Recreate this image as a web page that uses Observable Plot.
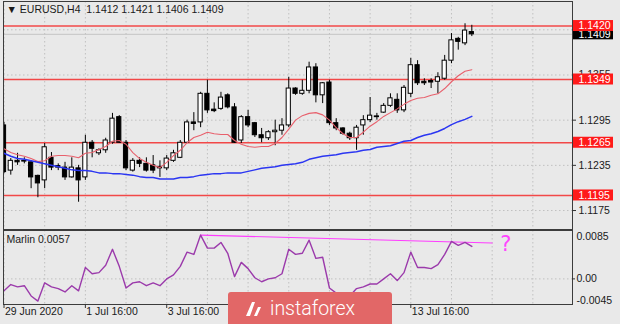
<!DOCTYPE html>
<html><head><meta charset="utf-8">
<script src="https://cdn.jsdelivr.net/npm/d3@7"></script>
<script src="https://cdn.jsdelivr.net/npm/@observablehq/plot@0.6"></script>
<style>
html,body{margin:0;padding:0;background:#e9e9e9;}
#chart{position:relative;width:620px;height:324px;overflow:hidden;background:#e9e9e9;}
#chart > svg{position:absolute;left:0;display:block;}
#logo{position:absolute;left:228px;top:292px;width:164px;height:40px;background:#e26767;border-radius:3px;}
#logo span{position:absolute;left:42px;top:5px;color:#fff;font-family:Roboto,"Open Sans",sans-serif;font-size:19.5px;font-weight:300;}
</style></head><body><div id="chart"></div>
<script>
// ---- data ----
const symbol = "EURUSD", timeframe = "H4";
const open  = [1.1288,1.1228,1.1241,1.1241,1.1239,1.1221,1.1215,1.1245,1.1234,1.1232,
               1.1219,1.1231,1.1219,1.1265,1.1251,1.1255,1.1265,1.1299,1.1265,1.1228,
               1.1241,1.1237,1.1235,1.1233,1.1231,1.1241,1.1245,1.1265,1.1292,1.1292,
               1.1330,1.1309,1.1310,1.1328,1.1312,1.1268,1.1299,1.1291,1.1275,1.1271,
               1.1279,1.1281,1.1288,1.1337,1.1330,1.1334,1.1365,1.1328,1.1345,1.1291,
               1.1284,1.1277,1.1271,1.1288,1.1295,1.1300,1.1305,1.1314,1.1322,1.1308,
               1.1330,1.1368,1.1346,1.1347,1.1346,1.1350,1.1374,1.1403,1.1397,1.1412];
const high  = [1.1292,1.1244,1.1251,1.1245,1.1241,1.1222,1.1264,1.1252,1.1237,1.1239,
               1.1245,1.1235,1.1275,1.1268,1.1257,1.1271,1.1304,1.1301,1.1268,1.1244,
               1.1245,1.1245,1.1248,1.1241,1.1248,1.1255,1.1268,1.1295,1.1305,1.1332,
               1.1348,1.1318,1.1332,1.1330,1.1317,1.1301,1.1308,1.1292,1.1284,1.1281,
               1.1295,1.1297,1.1352,1.1338,1.1348,1.1372,1.1370,1.1345,1.1348,1.1297,
               1.1285,1.1279,1.1288,1.1301,1.1325,1.1304,1.1317,1.1330,1.1330,1.1341,
               1.1377,1.1374,1.1350,1.1350,1.1358,1.1381,1.1410,1.1405,1.1423,1.1421];
const low   = [1.1224,1.1222,1.1235,1.1237,1.1204,1.1192,1.1204,1.1228,1.1228,1.1215,
               1.1218,1.1186,1.1215,1.1245,1.1248,1.1251,1.1263,1.1264,1.1228,1.1226,
               1.1232,1.1226,1.1224,1.1219,1.1228,1.1239,1.1244,1.1264,1.1281,1.1285,
               1.1304,1.1305,1.1308,1.1310,1.1264,1.1264,1.1285,1.1272,1.1265,1.1268,
               1.1261,1.1275,1.1285,1.1328,1.1328,1.1330,1.1318,1.1317,1.1288,1.1281,
               1.1275,1.1268,1.1255,1.1275,1.1292,1.1295,1.1304,1.1312,1.1304,1.1305,
               1.1325,1.1341,1.1341,1.1337,1.1330,1.1348,1.1370,1.1388,1.1394,1.1406];
const close = [1.1226,1.1241,1.1239,1.1240,1.1219,1.1211,1.1259,1.1232,1.1232,1.1219,
               1.1232,1.1215,1.1265,1.1257,1.1255,1.1268,1.1297,1.1265,1.1231,1.1241,
               1.1237,1.1228,1.1228,1.1231,1.1244,1.1251,1.1265,1.1292,1.1290,1.1330,
               1.1308,1.1307,1.1325,1.1312,1.1265,1.1299,1.1288,1.1275,1.1271,1.1279,
               1.1281,1.1288,1.1337,1.1330,1.1334,1.1365,1.1328,1.1344,1.1291,1.1284,
               1.1277,1.1271,1.1285,1.1295,1.1301,1.1299,1.1314,1.1324,1.1308,1.1338,
               1.1368,1.1344,1.1344,1.1345,1.1352,1.1374,1.1401,1.1399,1.1414,1.1409];
const maFast = [1.1257,1.1252,1.1249,1.1247,1.1244,1.1240,1.1241,1.1247,1.1248,1.1248,
                1.1247,1.1245,1.1251,1.1252,1.1256,1.1260,1.1267,1.1268,1.1263,1.1252,
                1.1244,1.1239,1.1235,1.1232,1.1239,1.1248,1.1255,1.1265,1.1272,1.1275,
                1.1279,1.1277,1.1276,1.1276,1.1268,1.1263,1.1260,1.1259,1.1260,1.1260,
                1.1264,1.1272,1.1283,1.1295,1.1301,1.1304,1.1305,1.1302,1.1295,1.1285,
                1.1277,1.1272,1.1272,1.1279,1.1287,1.1293,1.1300,1.1305,1.1310,1.1316,
                1.1321,1.1324,1.1325,1.1328,1.1330,1.1337,1.1346,1.1354,1.1360,1.1362];
const maSlow = [1.1251,1.1247,1.1244,1.1243,1.1241,1.1239,1.1237,1.1235,1.1233,1.1231,
                1.1229,1.1228,1.1228,1.1227,1.1225,1.1225,1.1224,1.1224,1.1223,1.1222,
                1.1220,1.1219,1.1219,1.1217,1.1217,1.1217,1.1219,1.1219,1.1220,1.1222,
                1.1223,1.1224,1.1224,1.1225,1.1225,1.1225,1.1227,1.1229,1.1231,1.1232,
                1.1233,1.1235,1.1236,1.1237,1.1239,1.1243,1.1245,1.1247,1.1248,1.1249,
                1.1251,1.1252,1.1253,1.1255,1.1256,1.1259,1.1260,1.1261,1.1264,1.1267,
                1.1268,1.1272,1.1275,1.1277,1.1280,1.1284,1.1289,1.1293,1.1296,1.1300];
const marlin = [-0.0021,-0.0010,-0.0014,-0.0012,-0.0030,-0.0039,-0.0007,-0.0014,-0.0017,-0.0023,
                -0.0012,-0.0021,0.0020,0.0009,0.0011,0.0024,0.0052,0.0022,-0.0016,-0.0007,
                -0.0005,-0.0012,-0.0007,-0.0012,0.0000,0.0007,0.0022,0.0047,0.0043,0.0077,
                0.0054,0.0054,0.0064,0.0045,0.0004,0.0029,0.0018,0.0002,-0.0005,0.0000,
                0.0002,0.0009,0.0052,0.0043,0.0045,0.0068,0.0036,0.0038,-0.0016,-0.0025,
                -0.0032,-0.0030,-0.0017,-0.0014,-0.0009,-0.0009,0.0000,0.0009,-0.0003,0.0011,
                0.0047,0.0020,0.0020,0.0018,0.0025,0.0043,0.0066,0.0059,0.0064,0.0057];
const levels = [1.1420, 1.1349, 1.1265, 1.1195];
const bidPrice = [1.1409];
const priceGrid = [1.1175, 1.1235, 1.1295, 1.1355, 1.1415];
const priceTicks = [1.1175, 1.1235, 1.1295, 1.1355];
const gridIdx = [0, 6, 12, 18, 24, 30, 36, 42, 48, 54, 60, 66, 72, 78];
const timeTickIdx = [0, 12, 24, 60];
const timeTickLabels = ["29 Jun 2020", "1 Jul 16:00", "3 Jul 16:00", "13 Jul 16:00"];
const marlinTicks = [0.0085, 0, -0.0045];
const marlinTickLabels = ["0.0085", "0.00", "-0.0045"];
const trendIdx = [29, 72];
const trendVal = [0.0077, 0.0063];
const noteIdx = [74], noteVal = [0.0061], noteText = ["?"];

// ---- scales / layout ----
const W = 620, ML = 3, MR = 48;
const xDomain = [-0.074, 83.85];
const yDomain = [1.11498, 1.145259];
const oDomain = [-0.0045, 0.0085];
const mainH = 230, indH = 94, indMB = 20;
const pxPerBar = (W - ML - MR) / (xDomain[1] - xDomain[0]);
const pxPerPrice = (mainH - 2) / (yDomain[1] - yDomain[0]);
const pxPerOsc = (indH - indMB) / (oDomain[1] - oDomain[0]);
const xEdge = xDomain[1];

// ---- derived tables ----
const candles = open.map((o, i) => ({i, o, h: high[i], l: low[i], c: close[i]}));
const fast = maFast.map((v, i) => ({i, v}));
const slow = maSlow.map((v, i) => ({i, v}));
const osc = marlin.map((v, i) => ({i, v}));
const trend = trendIdx.map((i, k) => ({i, v: trendVal[k]}));
const notes = noteIdx.map((i, k) => ({i, v: noteVal[k], t: noteText[k]}));
const last = candles[candles.length - 1];
const title = `\u25BC ${symbol},${timeframe}  ${last.o.toFixed(4)} ${last.h.toFixed(4)} ${last.l.toFixed(4)} ${last.c.toFixed(4)}`;

const FONT = '"Liberation Sans", Arial, sans-serif';
const FS = 10.5;
const INK = "#1a1a1a";
const gridStyle = {stroke: "#c0c0c0", strokeDasharray: "1.5,2.5"};
const halfBox = 5.5 / pxPerPrice;
const boxX1 = xEdge + 1 / pxPerBar, boxX2 = xEdge + 41 / pxPerBar;

const labelBoxes = (data, fill) => [
  Plot.rect(data, {x1: () => boxX1, x2: () => boxX2, y1: d => d - halfBox, y2: d => d + halfBox, fill}),
  Plot.text(data, {y: d => d, text: d => d.toFixed(4), frameAnchor: "right", dx: 6, textAnchor: "start", fill: "#fff"})
];

const main = Plot.plot({
  width: W, height: mainH,
  marginTop: 1, marginBottom: 1, marginLeft: ML, marginRight: MR,
  style: {background: "transparent", fontFamily: FONT, fontSize: FS + "px", color: INK, overflow: "visible"},
  x: {domain: xDomain, axis: null},
  y: {domain: yDomain, axis: null},
  marks: [
    Plot.ruleX(gridIdx, {x: d => d, ...gridStyle}),
    Plot.ruleY(priceGrid, {y: d => d, ...gridStyle}),
    Plot.ruleY(bidPrice, {y: d => d, stroke: "#c4c4c4"}),
    Plot.ruleY(levels, {y: d => d, stroke: "#f24848", strokeWidth: 1.5}),
    Plot.ruleX(candles, {x: "i", y1: "l", y2: "h", stroke: "#000", clip: true}),
    Plot.rect(candles, {x1: d => d.i - 0.31, x2: d => d.i + 0.31, y1: "o", y2: "c",
      fill: d => d.c >= d.o ? "#fff" : "#000", stroke: "#000", clip: true}),
    Plot.line(fast, {x: "i", y: "v", stroke: "#e8606c", strokeWidth: 1.1}),
    Plot.line(slow, {x: "i", y: "v", stroke: "#2b36f2", strokeWidth: 1.5}),
    Plot.frame({stroke: "#3c3c3c"}),
    Plot.text([title], {frameAnchor: "top-left", dx: 3, dy: 4, lineAnchor: "top", fill: INK, fontSize: FS}),
    Plot.ruleY(priceGrid, {y: d => d, x1: () => xEdge, x2: () => xEdge + 4 / pxPerBar, stroke: "#333"}),
    Plot.text(priceTicks, {y: d => d, text: d => d.toFixed(4), frameAnchor: "right", dx: 6, textAnchor: "start", fill: INK}),
    ...labelBoxes(bidPrice, "#000"),
    ...labelBoxes(levels, "#ff1a1a")
  ]
});
main.style.top = "0px";

const ind = Plot.plot({
  width: W, height: indH,
  marginTop: 0, marginBottom: indMB, marginLeft: ML, marginRight: MR,
  style: {background: "transparent", fontFamily: FONT, fontSize: FS + "px", color: INK, overflow: "visible"},
  x: {domain: xDomain, axis: null},
  y: {domain: oDomain, axis: null},
  marks: [
    Plot.ruleX(gridIdx, {x: d => d, ...gridStyle}),
    Plot.ruleY([0], {y: d => d, ...gridStyle}),
    Plot.line(trend, {x: "i", y: "v", stroke: "#ff3cff", strokeWidth: 1.2}),
    Plot.line(osc, {x: "i", y: "v", stroke: "#9b3aab", strokeWidth: 1.4}),
    Plot.text(notes, {x: "i", y: "v", text: "t", fill: "#ff45ff", fontSize: 21, fontFamily: '"DejaVu Sans", sans-serif'}),
    Plot.frame({stroke: "#3c3c3c"}),
    Plot.text(["Marlin " + marlin[marlin.length - 1].toFixed(4)], {frameAnchor: "top-left", dx: 3, dy: 5, lineAnchor: "top", fill: INK}),
    Plot.ruleY([0], {y: d => d, x1: () => xEdge, x2: () => xEdge + 3 / pxPerBar, stroke: "#333"}),
    ...marlinTicks.map((t, k) => Plot.text([t], {y: d => d, text: () => marlinTickLabels[k], frameAnchor: "right",
      dx: 4, textAnchor: "start", lineAnchor: ["top", "middle", "bottom"][k], dy: [2, 0, -1][k], fill: INK})),
    Plot.ruleX(timeTickIdx, {x: d => d, y1: () => oDomain[0], y2: () => oDomain[0] - 4 / pxPerOsc, stroke: "#333"}),
    Plot.text(timeTickIdx, {x: d => d, text: (d, k) => timeTickLabels[k], frameAnchor: "bottom", dy: 10, dx: 1, textAnchor: "start", fill: INK})
  ]
});
ind.style.top = "230px";

const chart = document.getElementById("chart");
chart.appendChild(main);
chart.appendChild(ind);
const logo = document.createElement("div");
logo.id = "logo";
logo.innerHTML = '<svg width="24" height="22" style="position:absolute;left:14px;top:6px"><path d="M4 18 L10 4 L13 4 L8 18 Z M12 18 L16 9 L19 9 L15 18 Z" fill="#fff"/></svg><span>instaforex</span>';
chart.appendChild(logo);
</script></body></html>
